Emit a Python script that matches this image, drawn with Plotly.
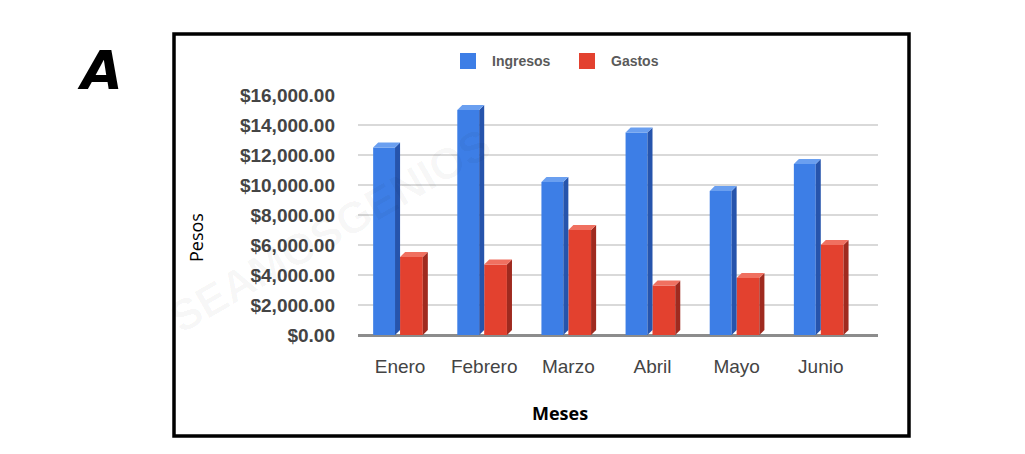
import plotly.graph_objects as go

meses = ["Enero", "Febrero", "Marzo", "Abril", "Mayo", "Junio"]
ingresos = [12500, 15000, 10200, 13500, 9600, 11400]
gastos = [5200, 4700, 7000, 3300, 3800, 6000]
y_ticks = [0, 2000, 4000, 6000, 8000, 10000, 12000, 14000, 16000]
y_labels = ["$%s" % format(v, ",.2f") for v in y_ticks]

# the page body has an 8px margin: work in page pixels and shift
OFF = 8
W, H = 1025 - OFF, 454 - OFF
L, R, T, B = 358 - OFF, 878 - OFF, 95 - OFF, 335 - OFF  # plot area (figure px)
YMAX = 16000
XMIN, XMAX = -0.5, 5.68


def px(x):  # page pixel -> paper
    return (x - OFF - L) / (R - L)


def py(y):
    return (B - (y - OFF)) / (B - T)


idx = list(range(len(meses)))

# 3D bar geometry (in axis units)
DX = 0.06
DY = 5 * YMAX / (B - T)
series = [
    dict(name="Ingresos", vals=ingresos, x0=-0.32, x1=-0.06,
         front="#3d7ee6", side="#2654ac", top="#6a9ff0", lx=468),
    dict(name="Gastos", vals=gastos, x0=0.0, x1=0.27,
         front="#e3412f", side="#9f2a1f", top="#f07060", lx=587),
]

fig = go.Figure()
shapes = []
annotations = []
for s in series:
    fig.add_trace(go.Bar(
        x=idx, y=s["vals"], name=s["name"],
        width=s["x1"] - s["x0"], offset=s["x0"],
        marker=dict(color=s["front"], line=dict(width=0)),
        hoverinfo="skip", showlegend=False,
    ))
    for i, v in zip(idx, s["vals"]):
        a, b = i + s["x0"], i + s["x1"]
        shapes.append(dict(
            type="path", xref="x", yref="y", layer="above",
            path=f"M {b},0 L {b+DX},{DY} L {b+DX},{v+DY} L {b},{v} Z",
            fillcolor=s["side"], line=dict(width=0)))
        shapes.append(dict(
            type="path", xref="x", yref="y", layer="above",
            path=f"M {a},{v} L {a+DX},{v+DY} L {b+DX},{v+DY} L {b},{v} Z",
            fillcolor=s["top"], line=dict(width=0)))
    # legend entry (square + label)
    shapes.append(dict(type="rect", xref="paper", yref="paper",
                       x0=px(s["lx"] - 8), x1=px(s["lx"] + 8),
                       y0=py(69), y1=py(53),
                       fillcolor=s["front"], line=dict(width=0)))
    annotations.append(dict(
        text="<b>%s</b>" % s["name"], xref="paper", yref="paper",
        x=px(s["lx"] + 22), y=py(61), showarrow=False,
        xanchor="left", yanchor="middle",
        font=dict(family="Liberation Sans", size=14, color="#5a5a5a")))

# outer black frame
shapes.append(dict(type="rect", xref="paper", yref="paper",
                   x0=px(174), x1=px(909), y0=py(436), y1=py(34),
                   line=dict(color="black", width=3.5), fillcolor="rgba(0,0,0,0)"))

annotations += [
    dict(text="<b><i>A</i></b>", xref="paper", yref="paper", x=px(100), y=py(71),
         showarrow=False, font=dict(family="DejaVu Sans", size=54, color="black"),
         xanchor="center", yanchor="middle"),
    dict(text="Pesos", xref="paper", yref="paper", x=px(196), y=py(238),
         textangle=-90, showarrow=False,
         font=dict(family="Open Sans", size=18, color="black"),
         xanchor="center", yanchor="middle"),
    dict(text="<b>Meses</b>", xref="paper", yref="paper", x=px(560), y=py(413),
         showarrow=False, font=dict(family="Open Sans", size=18, color="black"),
         xanchor="center", yanchor="middle"),
    # faint watermark
    dict(text="<b>SEAMOSGENIOS</b>", xref="paper", yref="paper",
         x=px(330), y=py(230), textangle=-30, showarrow=False,
         font=dict(family="Liberation Sans", size=44, color="rgba(0,0,0,0.03)"),
         xanchor="center", yanchor="middle"),
]

fig.update_layout(
    width=W, height=H,
    margin=dict(l=L, r=W - R, t=T, b=H - B, pad=0),
    paper_bgcolor="white", plot_bgcolor="white",
    barmode="overlay",
    showlegend=False,
    xaxis=dict(range=[XMIN, XMAX], tickvals=idx, ticktext=meses,
               showgrid=False, zeroline=False, showline=False, ticks="",
               ticklabelstandoff=18,
               tickfont=dict(family="Liberation Sans", size=19, color="#444444")),
    yaxis=dict(range=[0, YMAX], tickvals=y_ticks, ticktext=y_labels,
               showgrid=True, gridcolor="#d9d9d9", gridwidth=1.5,
               zeroline=True, zerolinecolor="#8c8c8c", zerolinewidth=2.5,
               showline=False, ticks="", ticklabelstandoff=22,
               tickfont=dict(family="Liberation Sans", size=19, color="#444444",
                             weight="bold")),
    shapes=shapes,
    annotations=annotations,
)

fig.write_html("out.html")
